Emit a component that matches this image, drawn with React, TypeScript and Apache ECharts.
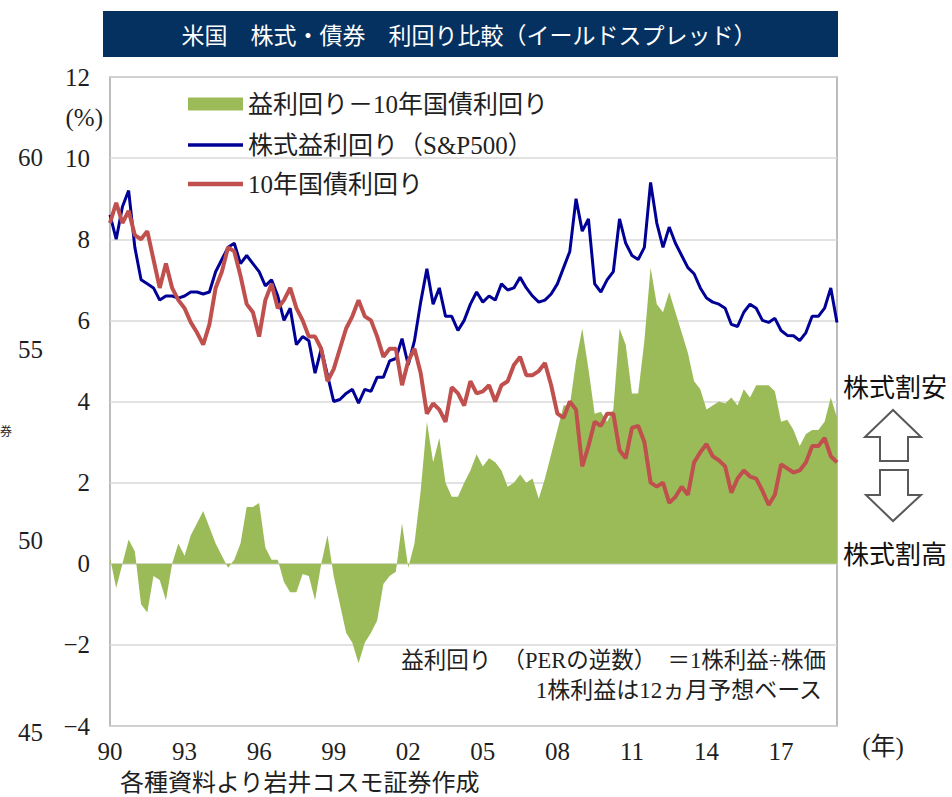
import React, { useEffect, useRef } from 'react';
import * as echarts from 'echarts';

// Quarterly data, 1990 Q1 .. 2019 Q2 (one row per year)
const startYear = 1990;

const earningsYield = [
  8.6, 8.0, 8.8, 9.2,
  7.8, 7.0, 6.9, 6.8,
  6.5, 6.6, 6.6, 6.55,
  6.6, 6.7, 6.7, 6.65,
  6.7, 7.2, 7.5, 7.8,
  7.9, 7.4, 7.6, 7.4,
  7.2, 6.85, 7.0, 6.6,
  6.0, 6.3, 5.4, 5.6,
  5.5, 4.7, 5.3, 4.65,
  4.0, 4.05, 4.2, 4.3,
  3.96, 4.3, 4.25, 4.6,
  4.6, 5.0, 5.06, 5.55,
  4.9, 5.5, 6.45, 7.27,
  6.4, 6.8, 6.1, 6.1,
  5.75, 6.0, 6.4, 6.7,
  6.45, 6.6, 6.5, 6.9,
  6.75, 6.8, 7.06, 6.8,
  6.6, 6.45, 6.5, 6.65,
  6.9, 7.3, 7.7, 9.0,
  8.2, 8.5, 6.9, 6.7,
  7.0, 7.2, 8.5, 7.9,
  7.6, 7.5, 7.8, 9.4,
  8.4, 7.8, 8.3, 7.9,
  7.6, 7.3, 7.15, 6.8,
  6.55, 6.45, 6.4, 6.3,
  5.9, 5.85, 6.2, 6.4,
  6.3, 6.0, 5.95, 6.05,
  5.75, 5.63, 5.62, 5.5,
  5.7, 6.1, 6.1, 6.3,
  6.8, 5.95,
];

const bondYield = [
  8.4, 8.9, 8.4, 8.7,
  8.1, 8.0, 8.2, 7.5,
  6.8, 7.4, 6.8, 6.5,
  6.3, 5.95, 5.7, 5.4,
  5.9, 6.8, 7.2, 7.8,
  7.7, 7.1, 6.4, 6.2,
  5.6, 6.5, 6.9, 6.3,
  6.5, 6.8, 6.3, 6.0,
  5.6, 5.6, 5.3, 4.5,
  4.8, 5.3, 5.8, 6.1,
  6.5, 6.1, 6.0, 5.6,
  5.1, 5.3, 5.3, 4.4,
  5.0, 5.3, 4.7, 3.7,
  3.95, 3.8, 3.5, 4.35,
  4.2, 3.9, 4.5, 4.2,
  4.25, 4.4, 4.0, 4.4,
  4.5, 4.9, 5.1, 4.65,
  4.65, 4.75, 4.95, 4.4,
  3.7, 3.6, 4.0, 3.8,
  2.4, 2.9, 3.5, 3.4,
  3.7, 3.7, 2.8, 2.6,
  3.35, 3.4, 3.0, 2.0,
  1.9, 2.0, 1.5, 1.65,
  1.9, 1.7, 2.5, 2.75,
  2.95, 2.65, 2.55, 2.4,
  1.75, 2.1, 2.3, 2.15,
  2.1, 1.8, 1.45, 1.7,
  2.45, 2.35, 2.25, 2.3,
  2.5, 2.9, 2.9, 3.1,
  2.65, 2.5,
];

const yieldSpread = [
  0.15, -0.6, 0.0, 0.6,
  0.3, -1.0, -1.2, -0.3,
  -0.4, -0.9, 0.0, 0.5,
  0.2, 0.7, 1.0, 1.3,
  0.9, 0.5, 0.2, -0.1,
  0.1, 0.5, 1.4, 1.4,
  1.5, 0.4, 0.1, 0.1,
  -0.45, -0.7, -0.7, -0.25,
  -0.3, -0.9, 0.0, 0.7,
  -0.3, -1.0, -1.7, -1.95,
  -2.45, -1.95, -1.7, -1.4,
  -0.5, -0.3, -0.2, 1.0,
  -0.1, 0.5, 1.8, 3.5,
  2.5, 3.1, 2.0, 1.65,
  1.65, 2.0, 2.3, 2.7,
  2.4, 2.6, 2.5, 2.3,
  1.9, 2.0, 2.2, 2.0,
  2.1, 1.6, 2.1, 2.7,
  3.3, 3.9, 3.9, 5.0,
  5.8, 4.8, 3.7, 3.75,
  3.5, 3.8, 5.8, 5.4,
  4.2, 4.2, 5.5, 7.3,
  6.4, 6.2, 6.7, 6.2,
  5.7, 5.2, 4.5, 4.3,
  3.8, 3.9, 4.0, 3.95,
  4.1, 3.9, 4.3, 4.1,
  4.4, 4.4, 4.4, 4.25,
  3.5, 3.55, 3.3, 2.9,
  3.2, 3.3, 3.3, 3.5,
  4.1, 3.6,
];

const categories = earningsYield.map(
  (_, i) => `${startYear + Math.floor(i / 4)}Q${(i % 4) + 1}`
);
const xTickLabels = ['90', '93', '96', '99', '02', '05', '08', '11', '14', '17'];
const seriesNames = ['益利回り－10年国債利回り', '株式益利回り（S&P500）', '10年国債利回り'];
const ghostAxisLabels = ['60', '55', '50', '45'];

const SERIF = "'Liberation Serif', 'Noto Sans CJK JP', serif";
const GOTHIC = "'Noto Sans CJK JP', sans-serif";
const TXT = '#1f1f1f';
const GREEN = '#9bbb59';
const BLUE = '#000096';
const RED = '#c0504d';

export default function App() {
  const ref = useRef<HTMLDivElement>(null);

  useEffect(() => {
    if (!ref.current) return;
    const chart = echarts.init(ref.current, undefined, { renderer: 'svg' });

    const ghostY = [157, 349, 540, 732];
    const legendBase = {
      orient: 'horizontal',
      left: 188,
      padding: 0,
      itemWidth: 55,
      icon: 'rect',
      selectedMode: false,
      textStyle: { fontSize: 25, fontFamily: SERIF, color: TXT, lineHeight: 26 },
    };

    const option: any = {
      animation: false,
      backgroundColor: '#ffffff',
      grid: {
        left: 110,
        right: 115,
        top: 77,
        bottom: 71,
        show: true,
        borderColor: '#a6a6a6',
        borderWidth: 1.5,
        backgroundColor: 'transparent',
      },
      legend: [
        { ...legendBase, top: 91, itemHeight: 13, data: [seriesNames[0]] },
        { ...legendBase, top: 132, itemHeight: 3.5, data: [seriesNames[1]] },
        { ...legendBase, top: 171, itemHeight: 4.5, data: [seriesNames[2]] },
      ],
      xAxis: {
        type: 'category',
        data: categories,
        boundaryGap: false,
        axisLine: { show: false },
        axisTick: { show: false },
        splitLine: { show: false },
        axisLabel: {
          interval: (index: number) => index % 12 === 0,
          formatter: (_v: string, index: number) => xTickLabels[index / 12] ?? '',
          fontSize: 25,
          fontFamily: SERIF,
          color: TXT,
          margin: 13,
        },
      },
      yAxis: {
        type: 'value',
        min: -4,
        max: 12,
        interval: 2,
        axisLine: { show: false },
        axisTick: { show: false },
        splitLine: { lineStyle: { color: '#d9d9d9', width: 1.5 } },
        axisLabel: {
          fontSize: 25,
          fontFamily: SERIF,
          color: TXT,
          margin: 20,
          formatter: (v: number) => (v < 0 ? '−' + Math.abs(v) : String(v)),
        },
      },
      series: [
        {
          name: seriesNames[0],
          type: 'line',
          data: yieldSpread,
          symbol: 'none',
          lineStyle: { width: 0, color: GREEN },
          itemStyle: { color: GREEN },
          areaStyle: { color: GREEN, opacity: 1 },
          z: 1,
        },
        {
          name: seriesNames[1],
          type: 'line',
          data: earningsYield,
          symbol: 'none',
          lineStyle: { width: 3, color: BLUE },
          itemStyle: { color: BLUE },
          z: 2,
        },
        {
          name: seriesNames[2],
          type: 'line',
          data: bondYield,
          symbol: 'none',
          lineStyle: { width: 4, color: RED },
          itemStyle: { color: RED },
          z: 3,
        },
      ],
      graphic: [
        {
          type: 'rect',
          shape: { x: 103, y: 11, width: 735, height: 46 },
          style: { fill: '#04315f' },
          silent: true,
        },
        {
          type: 'text',
          x: 469,
          y: 34,
          style: {
            text: '米国　株式・債券　利回り比較（イールドスプレッド）',
            fill: '#ffffff',
            font: `23px ${GOTHIC}`,
            align: 'center',
            verticalAlign: 'middle',
          },
        },
        {
          type: 'text',
          x: 103,
          y: 117,
          style: { text: '(%)', fill: TXT, font: `25px ${SERIF}`, align: 'right', verticalAlign: 'middle' },
        },
        ...ghostAxisLabels.map((t, i) => ({
          type: 'text',
          x: 43,
          y: ghostY[i],
          style: { text: t, fill: TXT, font: `25px ${SERIF}`, align: 'right', verticalAlign: 'middle' },
        })),
        {
          type: 'text',
          x: 0,
          y: 432,
          style: { text: '券', fill: TXT, font: `12px ${SERIF}`, align: 'left', verticalAlign: 'middle' },
        },
        {
          type: 'text',
          x: 883,
          y: 746,
          style: { text: '(年)', fill: TXT, font: `25px ${SERIF}`, align: 'center', verticalAlign: 'middle' },
        },
        {
          type: 'text',
          x: 120,
          y: 783,
          style: { text: '各種資料より岩井コスモ証券作成', fill: TXT, font: `24px ${SERIF}`, align: 'left', verticalAlign: 'middle' },
        },
        {
          type: 'text',
          x: 826,
          y: 660,
          style: { text: '益利回り　（PERの逆数）　＝1株利益÷株価', fill: TXT, font: `22.5px ${SERIF}`, align: 'right', verticalAlign: 'middle' },
        },
        {
          type: 'text',
          x: 822,
          y: 690,
          style: { text: '1株利益は12ヵ月予想ベース', fill: TXT, font: `23px ${SERIF}`, align: 'right', verticalAlign: 'middle' },
        },
        {
          type: 'text',
          x: 895,
          y: 385,
          style: { text: '株式割安', fill: '#111111', font: `26px ${GOTHIC}`, align: 'center', verticalAlign: 'middle' },
        },
        {
          type: 'text',
          x: 895,
          y: 552,
          style: { text: '株式割高', fill: '#111111', font: `26px ${GOTHIC}`, align: 'center', verticalAlign: 'middle' },
        },
        {
          type: 'polygon',
          shape: { points: [[893, 410], [865, 437], [880, 437], [880, 461], [908, 461], [908, 437], [921, 437]] },
          style: { fill: '#ffffff', stroke: '#595959', lineWidth: 2 },
        },
        {
          type: 'polygon',
          shape: { points: [[880, 470], [908, 470], [908, 495], [921, 495], [893, 521], [866, 495], [880, 495]] },
          style: { fill: '#ffffff', stroke: '#595959', lineWidth: 2 },
        },
      ],
    };

    chart.setOption(option);
    return () => chart.dispose();
  }, []);

  return (
    <div
      ref={ref}
      style={{ position: 'absolute', left: 0, top: 0, width: 952, height: 797, background: '#fff' }}
    />
  );
}
